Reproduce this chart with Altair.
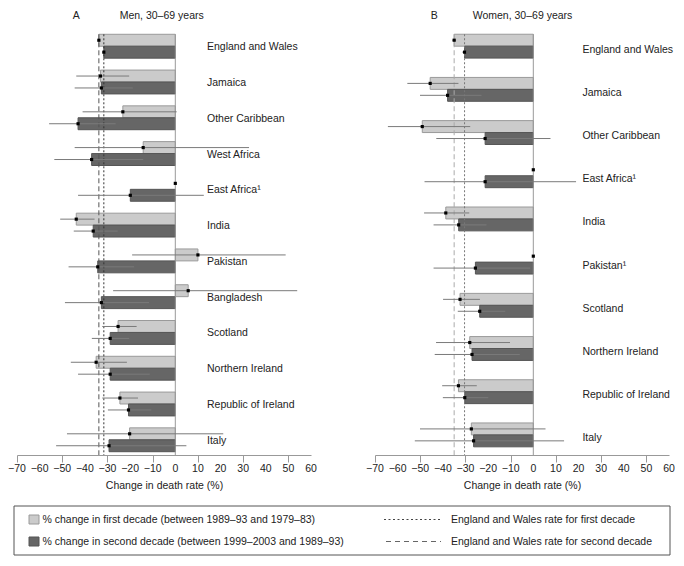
import altair as alt
import pandas as pd

FONT = "Liberation Sans"

# ---------------- data ----------------
cats_men = ["England and Wales", "Jamaica", "Other Caribbean", "West Africa", "East Africa¹",
            "India", "Pakistan", "Bangladesh", "Scotland", "Northern Ireland",
            "Republic of Ireland", "Italy"]
men_first = [-33.8, -33.1, -23.2, -14.2, None, -43.8, 10.0, 5.7, -25.3, -35.0, -24.5, -20.2]
men_first_lo = [-34.4, -43.8, -41.0, -44.5, None, -50.9, -19.1, -27.5, -32.3, -46.2, -32.3, -47.9]
men_first_hi = [-33.2, -20.4, 0.6, 32.6, None, -35.7, 48.8, 53.9, -17.1, -21.4, -16.5, 21.2]
men_second = [-31.6, -32.7, -43.0, -37.0, -19.9, -36.3, -34.3, -32.7, -28.8, -28.8, -20.7, -29.3]
men_second_lo = [-32.2, -44.5, -55.8, -53.5, -43.0, -44.9, -47.2, -48.8, -36.9, -43.0, -29.8, -52.7]
men_second_hi = [-31.0, -18.8, -26.4, -14.2, 12.6, -25.5, -18.2, -11.6, -20.4, -11.3, -10.6, 4.9]

cats_women = ["England and Wales", "Jamaica", "Other Caribbean", "East Africa¹", "India",
              "Pakistan¹", "Scotland", "Northern Ireland", "Republic of Ireland", "Italy"]
women_first = [-35.0, -45.6, -49.1, None, -38.7, None, -32.4, -28.1, -33.1, -27.4]
women_first_lo = [-35.8, -55.7, -64.3, None, -48.3, None, -39.9, -43.0, -40.3, -50.1]
women_first_hi = [-34.2, -33.1, -27.9, None, -28.3, None, -23.6, -10.3, -25.0, 5.4]
women_second = [-30.4, -37.9, -21.3, -21.3, -33.0, -25.6, -23.7, -27.1, -30.3, -26.4]
women_second_lo = [-31.4, -50.1, -42.9, -48.1, -44.1, -44.1, -33.4, -43.6, -40.0, -52.4]
women_second_hi = [-29.4, -22.9, 7.6, 18.9, -20.7, -1.4, -12.4, -6.0, -19.9, 13.6]

x_ticks = [-70, -60, -50, -40, -30, -20, -10, 0, 10, 20, 30, 40, 50, 60]
x_tick_labels = ["−70", "−60", "−50", "−40", "−30", "−20", "−10", "0",
                 "10", "20", "30", "40", "50", "60"]
legend_labels = ["% change in first decade (between 1989–93 and 1979–83)",
                 "% change in second decade (between 1999–2003 and 1989–93)",
                 "England and Wales rate for first decade",
                 "England and Wales rate for second decade"]

W = 294
H = 424
XT = "Change in death rate (%)"
TICK = 7


def xenc(field, xs, **kw):
    return alt.X(field, scale=xs, title=XT,
                 axis=alt.Axis(values=x_ticks, labels=False, grid=False), **kw)


def panel(cats, f, flo, fhi, s, slo, shi, letter, title, label_x, letter_x, title_x,
          po, dash_color, dot_color):
    rows = []
    for i, c in enumerate(cats):
        rows.append(dict(cat=c, decade="first", value=f[i], lo=flo[i], hi=fhi[i],
                         pt=f[i] if f[i] is not None else 0.0))
        rows.append(dict(cat=c, decade="second", value=s[i], lo=slo[i], hi=shi[i],
                         pt=s[i] if s[i] is not None else 0.0))
    df = pd.DataFrame(rows)
    base = alt.Chart(df)
    xs = alt.Scale(domain=[-70, 60], nice=False, zero=False)
    ysc = alt.Scale(paddingInner=0.333, paddingOuter=po)
    y = alt.Y("cat:N", sort=cats, axis=None, scale=ysc)
    yo = alt.YOffset("decade:N", sort=["first", "second"],
                     scale=alt.Scale(paddingInner=0, paddingOuter=0))
    n = len(cats)
    step = H / (n - 0.333 + 2 * po)
    top = po * step

    bars = base.transform_filter("isValid(datum.value)").mark_bar(strokeWidth=1).encode(
        x=xenc("value:Q", xs),
        y=y, yOffset=yo,
        fill=alt.Fill("decade:N", scale=alt.Scale(domain=["first", "second"],
                                                  range=["#cbcbcb", "#666666"]), legend=None),
        stroke=alt.Stroke("decade:N", scale=alt.Scale(domain=["first", "second"],
                                                      range=["#9a9a9a", "#555555"]), legend=None),
    )
    zero = alt.Chart(pd.DataFrame({"v": [0]})).mark_rule(color="#999999", strokeWidth=1).encode(
        x=xenc("v:Q", xs), y=alt.value(top), y2=alt.value(H))
    ref_dash = alt.Chart(pd.DataFrame({"v": [f[0]]})).mark_rule(
        color=dash_color, strokeWidth=1, strokeDash=[5, 3]).encode(
        x=xenc("v:Q", xs), y=alt.value(top), y2=alt.value(H))
    ref_dot = alt.Chart(pd.DataFrame({"v": [s[0]]})).mark_rule(
        color=dot_color, strokeWidth=1, strokeDash=[2, 2]).encode(
        x=xenc("v:Q", xs), y=alt.value(top), y2=alt.value(H))
    errs = base.transform_filter("isValid(datum.lo)").mark_rule(
        color="#7a7a7a", strokeWidth=1).encode(
        x=xenc("lo:Q", xs), x2="hi:Q", y=y, yOffset=yo)
    pts = base.mark_square(size=10, color="black", opacity=1).encode(
        x=xenc("pt:Q", xs), y=y, yOffset=yo)
    ticklab = alt.Chart(pd.DataFrame({"v": x_ticks, "lab": x_tick_labels})).mark_text(
        align="center", baseline="top", fontSize=10.5, font=FONT, color="#222222").encode(
        x=xenc("v:Q", xs), y=alt.value(H + TICK + 2), text="lab:N")
    labels = alt.Chart(pd.DataFrame({"cat": cats})).mark_text(
        align="left", baseline="middle", dy=1, fontSize=10.5, font=FONT, color="#222222").encode(
        x=alt.datum(label_x, scale=xs), y=y, text="cat:N")
    t1 = alt.Chart(pd.DataFrame({"t": [letter]})).mark_text(
        align="left", baseline="alphabetic", fontSize=10.5, font=FONT, color="#222222").encode(
        x=alt.datum(letter_x, scale=xs), y=alt.value(-12), text="t:N")
    t2 = alt.Chart(pd.DataFrame({"t": [title]})).mark_text(
        align="left", baseline="alphabetic", fontSize=10.5, font=FONT, color="#222222").encode(
        x=alt.datum(title_x, scale=xs), y=alt.value(-12), text="t:N")
    return alt.layer(bars, zero, ref_dash, ref_dot, errs, pts, ticklab, labels, t1, t2).properties(
        width=W, height=H)


pA = panel(cats_men, men_first, men_first_lo, men_first_hi, men_second, men_second_lo,
           men_second_hi, "A", "Men, 30–69 years", 14, -45.3, -24.6, 0.092, "#555555", "#333333")
pB = panel(cats_women, women_first, women_first_lo, women_first_hi, women_second,
           women_second_lo, women_second_hi, "B", "Women, 30–69 years", 21.7, -45.4, -26.8,
           0.075, "#aaaaaa", "#777777")

# ---------------- legend box ----------------
LW = 656
LH = 49
x0 = -3
r1 = 13.5
r2 = 35.5
lb = alt.Chart(pd.DataFrame({"d": [0]}))
box = lb.mark_rect(fill="white", fillOpacity=0, stroke="#555555", strokeWidth=1).encode(
    x=alt.value(x0), x2=alt.value(x0 + LW), y=alt.value(0), y2=alt.value(LH))
sw1 = lb.mark_rect(fill="#cbcbcb", stroke="#9a9a9a", strokeWidth=1).encode(
    x=alt.value(x0 + 15), x2=alt.value(x0 + 25), y=alt.value(r1 - 4.5), y2=alt.value(r1 + 4.5))
sw2 = lb.mark_rect(fill="#666666", stroke="#555555", strokeWidth=1).encode(
    x=alt.value(x0 + 15), x2=alt.value(x0 + 25), y=alt.value(r2 - 4.5), y2=alt.value(r2 + 4.5))
txt_kw = dict(align="left", baseline="middle", fontSize=10.5, font=FONT, color="#222222")
lt1 = lb.mark_text(**txt_kw).encode(x=alt.value(x0 + 28.5), y=alt.value(r1), text=alt.value(legend_labels[0]))
lt2 = lb.mark_text(**txt_kw).encode(x=alt.value(x0 + 28.5), y=alt.value(r2), text=alt.value(legend_labels[1]))
ln1 = lb.mark_rule(color="#444444", strokeWidth=1, strokeDash=[2, 2.5]).encode(
    x=alt.value(x0 + 370), x2=alt.value(x0 + 427), y=alt.value(r1))
ln2 = lb.mark_rule(color="#666666", strokeWidth=1, strokeDash=[5, 4]).encode(
    x=alt.value(x0 + 372), x2=alt.value(x0 + 427), y=alt.value(r2))
lt3 = lb.mark_text(**txt_kw).encode(x=alt.value(x0 + 437), y=alt.value(r1), text=alt.value(legend_labels[2]))
lt4 = lb.mark_text(**txt_kw).encode(x=alt.value(x0 + 437), y=alt.value(r2), text=alt.value(legend_labels[3]))
legend = alt.layer(box, sw1, sw2, lt1, lt2, ln1, ln2, lt3, lt4).properties(width=LW + x0, height=LH)

chart = alt.vconcat(
    alt.hconcat(pA, pB, spacing=49),
    legend,
    spacing=14,
).properties(
    padding={"left": 0, "top": 3, "right": 0, "bottom": 0}
).configure_view(stroke=None).configure_axisX(
    domainColor="#999999", tickColor="#999999", tickSize=TICK, domainWidth=1, tickWidth=1,
    labels=False,
    titleFontSize=10.5, titleFontWeight="normal", titleColor="#222222", titleFont=FONT,
    titlePadding=18,
).configure_text(font=FONT)

chart.save("out.html", embed_options={"renderer": "svg", "actions": False})
